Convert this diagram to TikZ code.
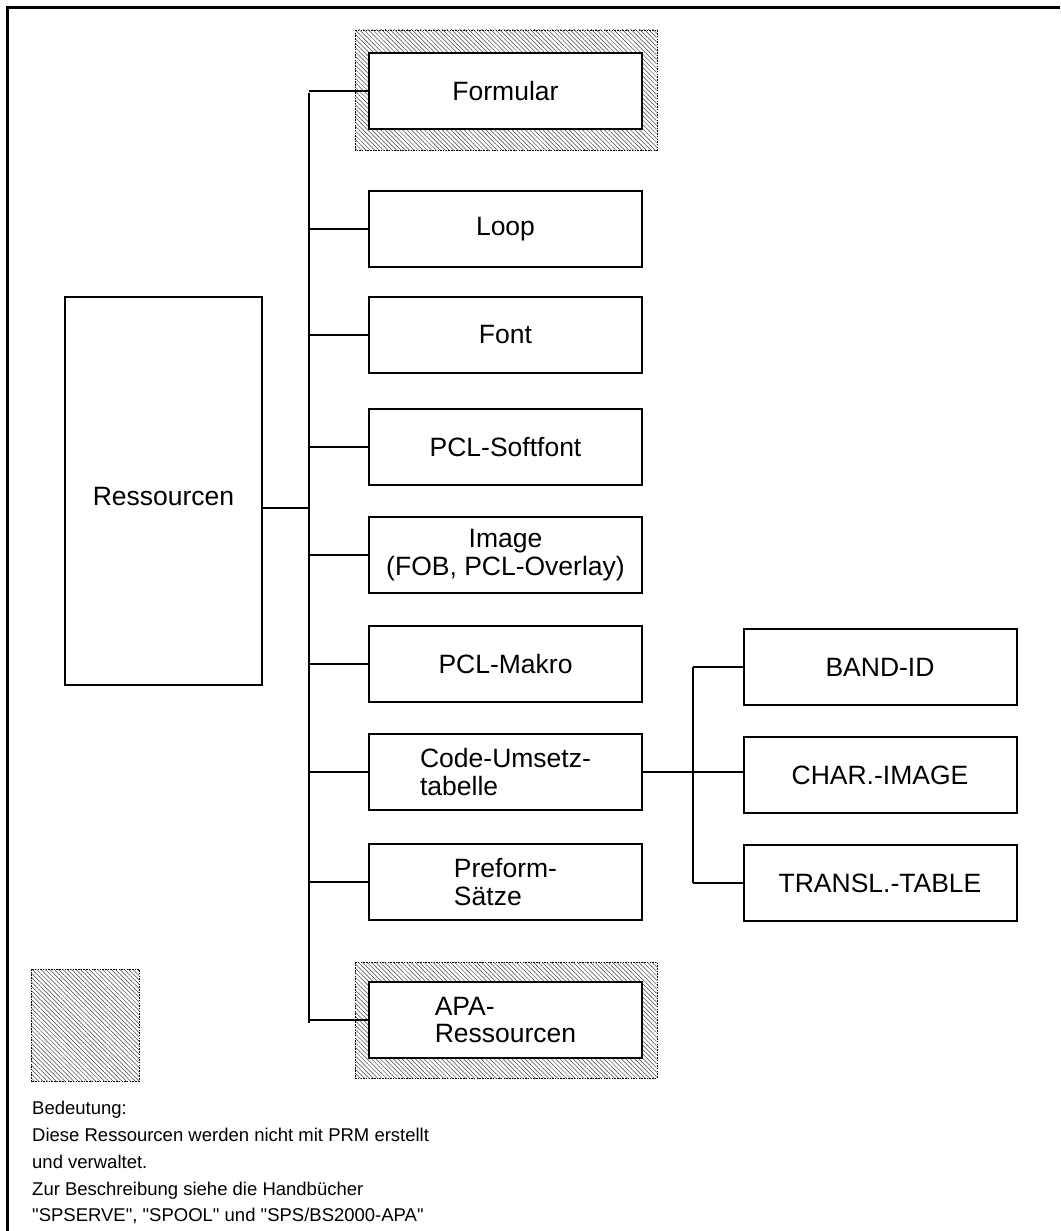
\documentclass[tikz,border=0pt]{standalone}
\usepackage{fontspec}
\setmainfont{Liberation Sans}[Ligatures=TeXOff]
\usetikzlibrary{patterns.meta}

\newcommand{\boxfont}{\fontsize{26.5}{27.5}\selectfont}
\newcommand{\legfont}{\fontsize{18.5}{26}\selectfont}

\tikzset{
  item/.style={draw, line width=2pt, fill=white, minimum width=273pt,
    minimum height=76pt, inner sep=0pt, font=\boxfont, align=center},
  itemleft/.style={item, align=left},
  root/.style={draw, line width=1.2pt, minimum width=197pt, minimum height=388pt,
    inner sep=0pt},
  rootlabel/.style={inner sep=0pt, font=\boxfont},
  link/.style={line width=1.2pt},
  hatchfill/.style={pattern={Lines[angle=-45, distance=3.1pt, line width=0.5pt]},
    pattern color=black!75},
  hatchedge/.style={draw=black, line width=0.9pt, dash pattern=on 1.5pt off 1.2pt},
  frame/.style={line width=3pt},
  legend/.style={anchor=base west, inner sep=0pt, font=\legfont}
}

\begin{document}
\begin{tikzpicture}[x=1pt, y=-1pt]
  \useasboundingbox (0,0) rectangle (1060,1231);

  % outer frame: top and left rule
  \draw[frame] (7,1231) -- (7,8) -- (1060,8);

  % hatched surrounds of the resources not managed by PRM
  \fill[hatchfill] (355,30) rectangle (657,150);
  \draw[hatchedge] (355,30) rectangle (657,150);
  \fill[hatchfill] (355,962) rectangle (657,1078);
  \draw[hatchedge] (355,962) rectangle (657,1078);
  \fill[hatchfill] (31,969) rectangle (139,1081);
  \draw[hatchedge] (31,969) rectangle (139,1081);

  % root
  \node[root] (res) at (163.5,491) {};
  \node[rootlabel] (restext) at (163.5,497) {Ressourcen};

  % first level
  \node[item] (form) at (505.5,91)  {Formular};
  \node[item] (loop) at (505.5,229) {Loop};
  \node[item] (font) at (505.5,335) {Font};
  \node[item] (soft) at (505.5,447) {PCL-Softfont};
  \node[item] (img)  at (505.5,555) {Image\\(FOB, PCL-Overlay)};
  \node[item] (mak)  at (505.5,664) {PCL-Makro};
  \node[itemleft] (code) at (505.5,772) {Code-Umsetz-\\tabelle};
  \node[itemleft] (pre)  at (505.5,882) {Preform-\\S\"atze};
  \node[itemleft] (apa)  at (505.5,1020) {APA-\\Ressourcen};

  % second level under the code table
  \node[item] (band)  at (880,667) {BAND-ID};
  \node[item] (char)  at (880,775) {CHAR.-IMAGE};
  \node[item] (trans) at (880,883) {TRANSL.-TABLE};

  % trunk and branches of the first level
  \coordinate (ttop) at (309,93);
  \coordinate (tbot) at (309,1023);
  \coordinate (rj) at (309,508);
  \draw[link] (ttop) -- (tbot);
  \draw[link] (res.east |- rj) -- (rj);
  \foreach \n in {form,loop,font,soft,img,mak,code,pre,apa}
    \draw[link] (ttop |- \n.west) -- (\n.west);

  % trunk and branches of the second level
  \coordinate (stop) at (693,667);
  \coordinate (sbot) at (693,883);
  \draw[link] (stop) -- (sbot);
  \draw[link] (code.east) -- (char.west |- code.east);
  \foreach \n in {band,trans}
    \draw[link] (stop |- \n.west) -- (\n.west);

  % legend
  \node[legend] (l1) at (32,1114) {Bedeutung:};
  \node[legend] (l2) at (32,1141) {Diese Ressourcen werden nicht mit PRM erstellt};
  \node[legend] (l3) at (32,1168) {und verwaltet.};
  \node[legend] (l4) at (32,1195) {Zur Beschreibung siehe die Handb\"ucher};
  \node[legend] (l5) at (32,1221) {"SPSERVE", "SPOOL" und "SPS/BS2000-APA"};
\end{tikzpicture}
\end{document}
